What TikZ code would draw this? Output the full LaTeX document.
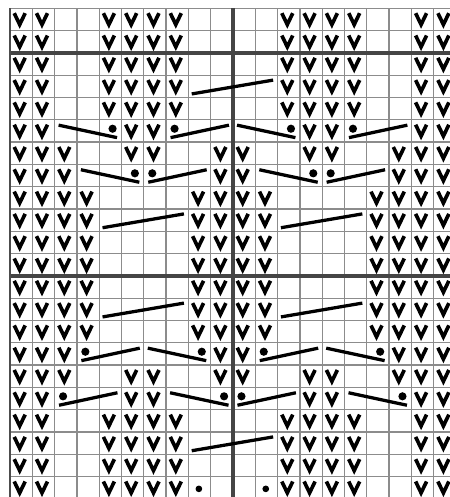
\documentclass[tikz,border=0pt]{standalone}
\usepackage{tikz}

\begin{document}
\begin{tikzpicture}[x=0.6cm,y=-0.6cm,
  gridline/.style={draw=black!45,line width=1pt},
  blockline/.style={draw=black!73,line width=2.5pt},
  knit/.style={line width=2.8pt,line join=miter},
  cable/.style={line width=2.5pt}]
\useasboundingbox (-0.448,-0.372) rectangle (19.731,21.915);
\fill[white] (-0.448,-0.372) rectangle (19.731,21.915);
\clip (-0.448,-0.372) rectangle (19.731,21.915);
% grid
\foreach \i in {0,...,20} \draw[gridline] (\i,0) -- (\i,22);
\foreach \j in {0,...,22} \draw[gridline] (0,\j) -- (20,\j);
\draw[blockline] (10,0) -- (10,22);
\draw[blockline] (0,2) -- (20,2) (0,12) -- (20,12) (0,22) -- (20,22);
\draw[draw=black!70,line width=1.3pt] (0,0) -- (0,22);
% knit stitches
\foreach \r in {1,...,5,19,20,21,22}
  \foreach \c in {1,2,5,6,7,8,13,14,15,16,19,20}
    \draw[knit] (\c-0.81,\r-0.78) -- (\c-0.565,\r-0.27) -- (\c-0.32,\r-0.78);
\foreach \r in {6,18}
  \foreach \c in {1,2,6,7,14,15,19,20}
    \draw[knit] (\c-0.81,\r-0.78) -- (\c-0.565,\r-0.27) -- (\c-0.32,\r-0.78);
\foreach \r in {7,17}
  \foreach \c in {1,2,3,6,7,10,11,14,15,18,19,20}
    \draw[knit] (\c-0.81,\r-0.78) -- (\c-0.565,\r-0.27) -- (\c-0.32,\r-0.78);
\foreach \r in {8,16}
  \foreach \c in {1,2,3,10,11,18,19,20}
    \draw[knit] (\c-0.81,\r-0.78) -- (\c-0.565,\r-0.27) -- (\c-0.32,\r-0.78);
\foreach \r in {9,...,15}
  \foreach \c in {1,2,3,4,9,10,11,12,17,18,19,20}
    \draw[knit] (\c-0.81,\r-0.78) -- (\c-0.565,\r-0.27) -- (\c-0.32,\r-0.78);
% cables over four
\foreach \r/\c in {4/9,20/9,10/5,10/13,14/5,14/13}
  \draw[cable] (\c-0.85,\r-0.16) -- (\c+2.8,\r-0.78);
% cables over three
\foreach \r/\c in {6/3,6/11,8/4,8/12,16/7,16/15,18/8,18/16} {
  \draw[cable] (\c-0.82,\r-0.76) -- (\c+1.8,\r-0.2);
  \fill (\c+1.6,\r-0.6) circle (0.11cm);
}
\foreach \r/\c in {6/8,6/16,8/7,8/15,16/4,16/12,18/3,18/11} {
  \draw[cable] (\c-0.8,\r-0.2) -- (\c+1.82,\r-0.76);
  \fill (\c-0.62,\r-0.6) circle (0.11cm);
}
% purl
\foreach \c in {9,12}
  \fill (\c-0.53,21.55) circle (0.09cm);
\end{tikzpicture}
\end{document}
